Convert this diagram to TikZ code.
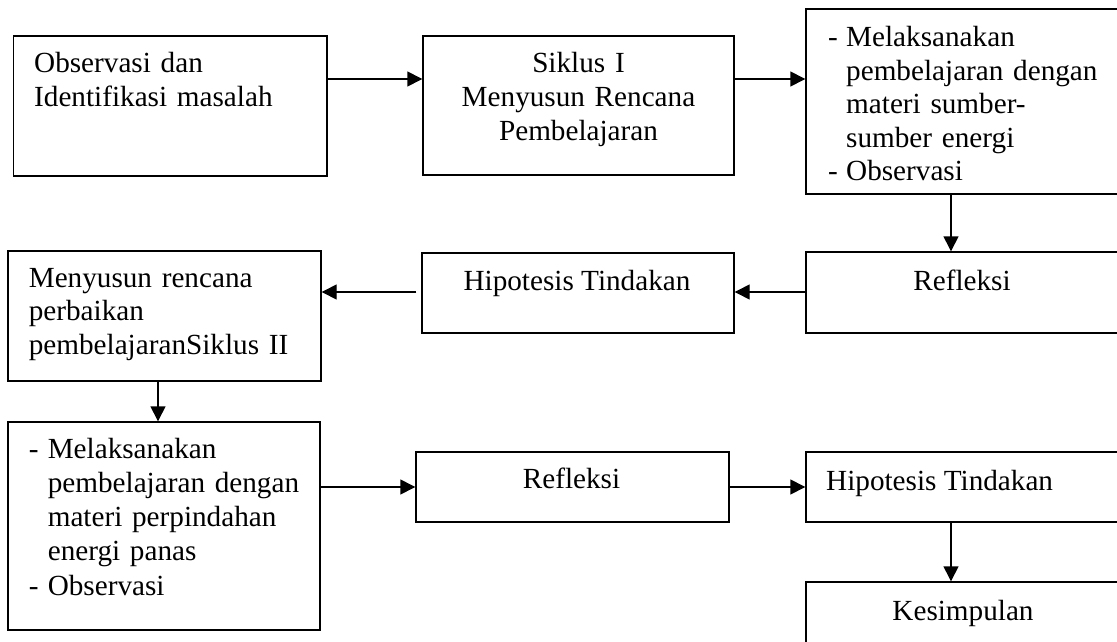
\documentclass[tikz,border=0pt]{standalone}
\usepackage{fontspec}
\setmainfont{Liberation Serif}
\usetikzlibrary{arrows.meta}
\begin{document}
\begin{tikzpicture}[x=1pt,y=-1pt,
  box/.style={draw,line width=1.4pt,rectangle,inner sep=0pt},
  txt/.style={inner sep=0pt,font=\fontsize{29.2}{34}\selectfont},
  arr/.style={line width=1.4pt,-{Triangle[length=15pt,width=15pt]}}]
\useasboundingbox (0,0) rectangle (1117,642);
\clip (0,0) rectangle (1117,642);
% boxes
\node[box,minimum width=313.4pt,minimum height=140pt] (b1) at (170.3,106) {};
\node[box,minimum width=311pt,minimum height=139pt] (b2) at (578.5,105.5) {};
\node[box,minimum width=324pt,minimum height=185pt] (b3) at (968,101.5) {};
\node[box,minimum width=324pt,minimum height=81pt] (r1) at (968,292.5) {};
\node[box,minimum width=312pt,minimum height=80pt] (h1) at (578,293) {};
\node[box,minimum width=313pt,minimum height=130pt] (m1) at (164.5,316) {};
\node[box,minimum width=312pt,minimum height=208pt] (m2) at (164,526) {};
\node[box,minimum width=313pt,minimum height=70pt] (r2) at (572.5,487) {};
\node[box,minimum width=324pt,minimum height=70pt] (h2) at (968,487) {};
\node[box,minimum width=324pt,minimum height=78pt] (k) at (968,621) {};
% texts
\node[txt,anchor=base west,text width=290pt,align=left] (t1) at (34,73) {Observasi dan\\Identifikasi masalah};
\node[txt,anchor=base,text width=300pt,align=center] (t2) at (578.5,73) {Siklus I\\Menyusun Rencana\\Pembelajaran};
\node[txt,anchor=base west,text width=400pt,align=left,font=\fontsize{29.2}{33.5}\selectfont] (t3) at (828,47) {\makebox[18pt][l]{-}Melaksanakan\\\hspace*{18pt}pembelajaran dengan\\\hspace*{18pt}materi sumber-\\\hspace*{18pt}sumber energi\\\makebox[18pt][l]{-}Observasi};
\node[txt,anchor=base] (t4) at (962,290) {Refleksi};
\node[txt,anchor=base] (t5) at (577,290) {Hipotesis Tindakan};
\node[txt,anchor=base west,text width=300pt,align=left,font=\fontsize{29.2}{33.5}\selectfont] (t6) at (28.6,287) {Menyusun rencana\\perbaikan\\pembelajaranSiklus II};
\node[txt,anchor=base west,text width=400pt,align=left,font=\fontsize{29.2}{34.25}\selectfont] (t7) at (28.6,458) {\makebox[19pt][l]{-}Melaksanakan\\\hspace*{19pt}pembelajaran dengan\\\hspace*{19pt}materi perpindahan\\\hspace*{19pt}energi panas\\\makebox[19pt][l]{-}Observasi};
\node[txt,anchor=base] (t8) at (571.5,488) {Refleksi};
\node[txt,anchor=base west] (t9) at (826,490) {Hipotesis Tindakan};
\node[txt,anchor=base] (t10) at (963,620) {Kesimpulan};
% connectors
\draw[arr] (b1.east |- 0,79) -- (b2.west |- 0,79);
\draw[arr] (b2.east |- 0,79) -- (b3.west |- 0,79);
\draw[arr] (b3.south -| 951,0) -- (r1.north -| 951,0);
\draw[arr] (r1.west |- 0,292) -- (h1.east |- 0,292);
\draw[arr,shorten <=5pt] (h1.west |- 0,292) -- (m1.east |- 0,292);
\draw[arr] (m1.south -| 158,0) -- (m2.north -| 158,0);
\draw[arr] (m2.east |- 0,487) -- (r2.west |- 0,487);
\draw[arr] (r2.east |- 0,487) -- (h2.west |- 0,487);
\draw[arr] (h2.south -| 951,0) -- (k.north -| 951,0);
\end{tikzpicture}
\end{document}
